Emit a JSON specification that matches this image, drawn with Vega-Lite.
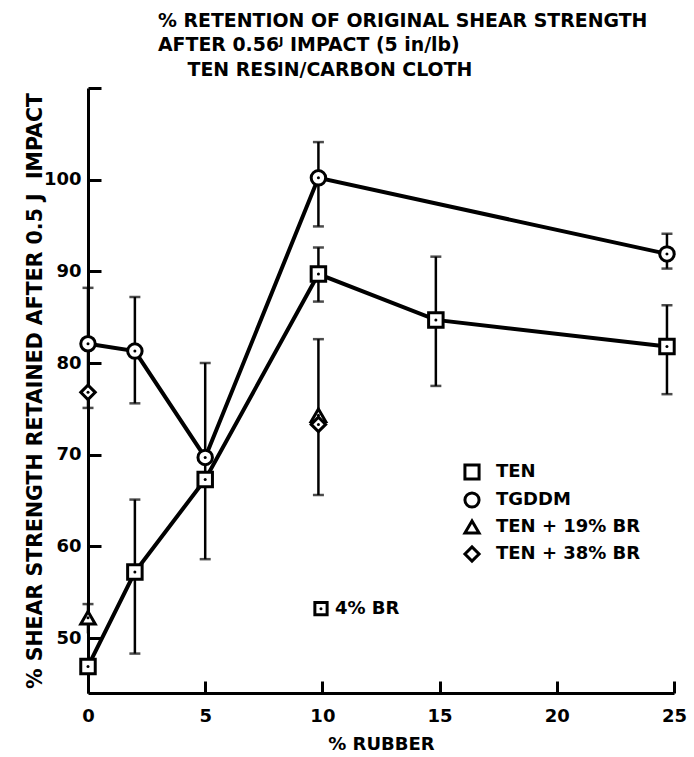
{
  "$schema": "https://vega.github.io/schema/vega-lite/v6.json",
  "width": 586,
  "height": 605,
  "autosize": {"type": "none"},
  "padding": {"left": 88, "top": 88, "right": 20, "bottom": 64},
  "background": "white",
  "config": {
    "view": {"stroke": null},
    "font": "DejaVu Sans",
    "axis": {"labelFont": "DejaVu Sans", "titleFont": "DejaVu Sans", "labelFontWeight": "bold", "titleFontWeight": "bold", "labelColor": "black", "titleColor": "black", "domainColor": "black", "tickColor": "black", "domainWidth": 3, "tickWidth": 3, "grid": false, "labelFontSize": 18, "titleFontSize": 18}
  },
  "title": {
    "text": ["% RETENTION OF ORIGINAL SHEAR STRENGTH", "AFTER 0.56ᴶ IMPACT (5 in/lb)", "⠀⠀TEN RESIN/CARBON CLOTH"],
    "anchor": "start",
    "frame": "group",
    "dx": 70,
    "offset": 7,
    "font": "DejaVu Sans",
    "fontSize": 18.9,
    "fontWeight": "bold",
    "lineHeight": 24.5,
    "color": "black"
  },
  "datasets": {
    "pts": [
      {"series": "TEN", "x": 0, "y": 46.9},
      {"series": "TEN", "x": 2, "y": 57.2},
      {"series": "TEN", "x": 5, "y": 67.3},
      {"series": "TEN", "x": 9.83, "y": 89.7},
      {"series": "TEN", "x": 14.84, "y": 84.7},
      {"series": "TEN", "x": 24.7, "y": 81.8},
      {"series": "TGDDM", "x": 0, "y": 82.1},
      {"series": "TGDDM", "x": 2, "y": 81.3},
      {"series": "TGDDM", "x": 5, "y": 69.7},
      {"series": "TGDDM", "x": 9.83, "y": 100.2},
      {"series": "TGDDM", "x": 24.7, "y": 91.9},
      {"series": "TEN + 19% BR", "x": 0, "y": 52.2},
      {"series": "TEN + 19% BR", "x": 9.83, "y": 74.3},
      {"series": "TEN + 38% BR", "x": 0, "y": 76.8},
      {"series": "TEN + 38% BR", "x": 9.83, "y": 73.3}
    ],
    "err": [
      {"x": 0, "lo": 75.1, "hi": 88.2},
      {"x": 0, "lo": 50.5, "hi": 53.7},
      {"x": 2, "lo": 75.6, "hi": 87.2},
      {"x": 2, "lo": 48.3, "hi": 65.1},
      {"x": 5, "lo": 58.6, "hi": 80.0},
      {"x": 9.83, "lo": 94.9, "hi": 104.1},
      {"x": 9.83, "lo": 86.7, "hi": 92.6},
      {"x": 9.83, "lo": 65.6, "hi": 82.6},
      {"x": 14.84, "lo": 77.5, "hi": 91.6},
      {"x": 24.7, "lo": 90.3, "hi": 94.1},
      {"x": 24.7, "lo": 76.6, "hi": 86.3}
    ],
    "caps": [
      {"x": 0, "y": 88.2}, {"x": 0, "y": 75.1}, {"x": 0, "y": 53.7},
      {"x": 2, "y": 87.2}, {"x": 2, "y": 75.6}, {"x": 2, "y": 65.1}, {"x": 2, "y": 48.3},
      {"x": 5, "y": 80.0}, {"x": 5, "y": 58.6},
      {"x": 9.83, "y": 104.1}, {"x": 9.83, "y": 94.9}, {"x": 9.83, "y": 92.6}, {"x": 9.83, "y": 86.7}, {"x": 9.83, "y": 82.6}, {"x": 9.83, "y": 65.6},
      {"x": 14.84, "y": 91.6}, {"x": 14.84, "y": 77.5},
      {"x": 24.7, "y": 94.1}, {"x": 24.7, "y": 90.3}, {"x": 24.7, "y": 86.3}, {"x": 24.7, "y": 76.6}
    ],
    "note": [
      {"x": 9.94, "y": 53.2, "label": "4% BR"}
    ]
  },
  "layer": [
    {
      "data": {"name": "err"},
      "mark": {"type": "rule", "color": "black", "strokeWidth": 2.5},
      "encoding": {
        "x": {"field": "x", "type": "quantitative", "scale": {"domain": [0, 25], "nice": false, "zero": false},
          "axis": {"values": [0, 5, 10, 15, 20, 25], "tickSize": -12, "labelPadding": 26, "labelFlush": false, "title": "% RUBBER", "titlePadding": 10}},
        "y": {"field": "lo", "type": "quantitative", "scale": {"domain": [44, 110], "nice": false, "zero": false},
          "axis": {"values": [50, 60, 70, 80, 90, 100, 110], "tickSize": -13, "labelPadding": 20, "labelExpr": "datum.value == 110 ? '' : datum.label", "title": "% SHEAR STRENGTH RETAINED AFTER 0.5 J\u00a0\u00a0IMPACT", "titleFontSize": 20.5, "titlePadding": -2}},
        "y2": {"field": "hi"}
      }
    },
    {
      "data": {"name": "caps"},
      "mark": {"type": "tick", "orient": "horizontal", "color": "black", "size": 11, "thickness": 2.5},
      "encoding": {
        "x": {"field": "x", "type": "quantitative"},
        "y": {"field": "y", "type": "quantitative"}
      }
    },
    {
      "data": {"name": "pts"},
      "transform": [{"filter": "datum.series == 'TEN' || datum.series == 'TGDDM'"}],
      "mark": {"type": "line", "color": "black", "strokeWidth": 4},
      "encoding": {
        "x": {"field": "x", "type": "quantitative"},
        "y": {"field": "y", "type": "quantitative"},
        "detail": {"field": "series"}
      }
    },
    {
      "data": {"name": "pts"},
      "mark": {"type": "point", "filled": true, "fill": "white", "stroke": "black", "strokeWidth": 3, "opacity": 1, "size": 210},
      "encoding": {
        "x": {"field": "x", "type": "quantitative"},
        "y": {"field": "y", "type": "quantitative"},
        "shape": {"field": "series", "type": "nominal",
          "scale": {"domain": ["TEN", "TGDDM", "TEN + 19% BR", "TEN + 38% BR"], "range": ["square", "circle", "triangle-up", "diamond"]},
          "legend": {"orient": "none", "legendX": 375, "legendY": 375, "title": null, "labelFont": "DejaVu Sans", "labelFontSize": 18, "labelFontWeight": "bold", "labelColor": "black", "symbolSize": 200, "symbolStrokeWidth": 3, "rowPadding": 0, "labelOffset": 15,
            "encode": {"symbols": {"update": {"stroke": {"value": "black"}, "fill": {"value": "white"}, "strokeWidth": {"value": 3}, "size": {"value": 200}, "opacity": {"value": 1}}}}}}
      }
    },
    {
      "data": {"name": "pts"},
      "mark": {"type": "point", "filled": true, "color": "black", "size": 9, "opacity": 1},
      "encoding": {
        "x": {"field": "x", "type": "quantitative"},
        "y": {"field": "y", "type": "quantitative"}
      }
    },
    {
      "data": {"name": "note"},
      "mark": {"type": "point", "shape": "square", "filled": true, "fill": "white", "stroke": "black", "strokeWidth": 3, "opacity": 1, "size": 150},
      "encoding": {
        "x": {"field": "x", "type": "quantitative"},
        "y": {"field": "y", "type": "quantitative"}
      }
    },
    {
      "data": {"name": "note"},
      "mark": {"type": "point", "filled": true, "color": "black", "size": 9, "opacity": 1},
      "encoding": {
        "x": {"field": "x", "type": "quantitative"},
        "y": {"field": "y", "type": "quantitative"}
      }
    },
    {
      "data": {"name": "note"},
      "mark": {"type": "text", "align": "left", "baseline": "middle", "dx": 14, "font": "DejaVu Sans", "fontSize": 18, "fontWeight": "bold", "color": "black"},
      "encoding": {
        "x": {"field": "x", "type": "quantitative"},
        "y": {"field": "y", "type": "quantitative"},
        "text": {"field": "label"}
      }
    }
  ]
}
